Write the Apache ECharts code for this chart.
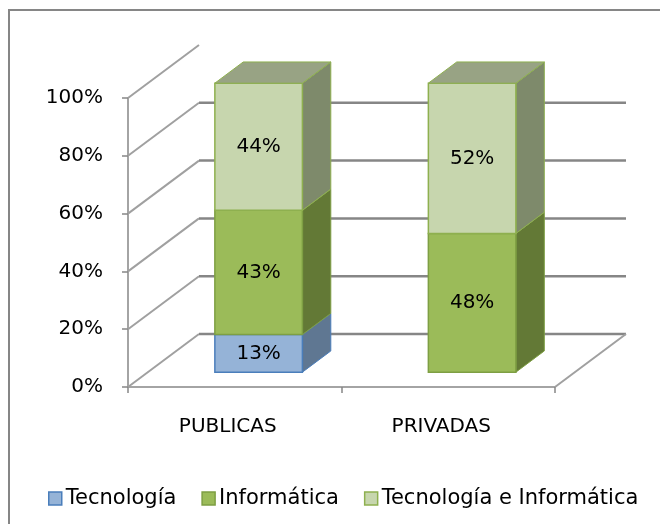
<!DOCTYPE html>
<html><head><meta charset="utf-8">
<script src="https://cdn.jsdelivr.net/npm/echarts/dist/echarts.min.js"></script>
<style>html,body{margin:0;padding:0;background:#fff}#c{width:660px;height:524px}</style>
</head><body><div id="c"></div>
<script>
const categories = ['PUBLICAS', 'PRIVADAS'];
const seriesNames = ['Tecnología', 'Informática', 'Tecnología e Informática'];
const tecnologia = [13, 0];
const informatica = [43, 48];
const tecEInf = [44, 52];
const yTicks = [0, 20, 40, 60, 80, 100];

const FONT = 'DejaVu Sans';
const WALL = [71, -53];         // full depth vector of the 3D box
const T1 = 0.28, T2 = 0.68;     // bar front/back depth fractions
const styles = [
  {front: '#95b3d7', side: '#5f7792', top: '#7f97b5', border: '#4a7ebb'},
  {front: '#9bbb59', side: '#637936', top: '#7e9a47', border: '#7e9f43'},
  {front: '#c7d6ae', side: '#7e8a6b', top: '#98a384', border: '#8eb04f'}
];
const allSeries = [tecnologia, informatica, tecEInf];

function stackData(k) {
  return categories.map((c, i) => {
    let s = 0;
    for (let j = 0; j < k; j++) s += allSeries[j][i];
    const v = allSeries[k][i];
    const top = (k === allSeries.length - 1) || allSeries.slice(k + 1).every(a => a[i] === 0);
    return [i, s, s + v, v, top ? 1 : 0];
  });
}

function barRender(k) {
  const st = styles[k];
  return function (params, api) {
    const v = api.value(3);
    if (!v) return;
    const cat = api.value(0);
    const p0 = api.coord([cat, api.value(1)]);
    const p1 = api.coord([cat, api.value(2)]);
    const hw = api.size([1, 0])[0] * 0.41 / 2;
    const fx = WALL[0] * T1, fy = WALL[1] * T1;
    const dx = WALL[0] * (T2 - T1), dy = WALL[1] * (T2 - T1);
    const xl = p0[0] - hw + fx + 4, xr = p0[0] + hw + fx + 4;
    const yb = p0[1] + fy, yt = p1[1] + fy;
    const children = [
      {type: 'polygon', shape: {points: [[xr, yb], [xr, yt], [xr + dx, yt + dy], [xr + dx, yb + dy]]},
        style: {fill: st.side, stroke: st.border, lineWidth: 1}},
      {type: 'rect', shape: {x: xl, y: yt, width: xr - xl, height: yb - yt},
        style: {fill: st.front, stroke: st.border, lineWidth: 1.5}},
      {type: 'text', style: {text: v + '%', x: (xl + xr) / 2, y: (yt + yb) / 2, align: 'center', verticalAlign: 'middle',
        fill: '#000', font: '20px "' + FONT + '"'}}
    ];
    if (api.value(4)) {
      children.push({type: 'polygon', shape: {points: [[xl, yt], [xr, yt], [xr + dx, yt + dy], [xl + dx, yt + dy]]},
        style: {fill: st.top, stroke: st.border, lineWidth: 1}});
    }
    return {type: 'group', children: children};
  };
}

function wallRender(params, api) {
  const cs = params.coordSys;
  const val = api.value(0);
  const p = api.coord([0, val]);
  const xL = cs.x, xR = cs.x + cs.width, y = p[1];
  const children = [
    {type: 'line', shape: {x1: xL, y1: y, x2: xL + WALL[0], y2: y + WALL[1]},
      style: {stroke: '#a0a0a0', lineWidth: 2}}
  ];
  if (val < 100) {
    children.push({type: 'line', shape: {x1: xL + WALL[0], y1: y + WALL[1], x2: xR + WALL[0], y2: y + WALL[1]},
      style: {stroke: '#868686', lineWidth: 2.5}});
  }
  if (val === 0) {
    children.push({type: 'line', shape: {x1: xR, y1: y, x2: xR + WALL[0], y2: y + WALL[1]},
      style: {stroke: '#a0a0a0', lineWidth: 2}});
  }
  return {type: 'group', children: children};
}

const chart = echarts.init(document.getElementById('c'));
const series = [{
  type: 'custom', name: '_walls', silent: true, z: 1,
  data: yTicks.map(v => [v]), encode: {y: 0},
  renderItem: wallRender
}];
seriesNames.forEach((n, k) => {
  series.push({
    type: 'custom', name: n, z: 2 + k,
    itemStyle: {color: styles[k].front, borderColor: styles[k].border, borderWidth: 1.5},
    data: stackData(k), encode: {x: 0, y: [1, 2]},
    renderItem: barRender(k)
  });
});

chart.setOption({
  animation: false,
  textStyle: {fontFamily: FONT},
  graphic: [{type: 'rect', shape: {x: 9, y: 10, width: 700, height: 600},
    style: {fill: 'none', stroke: '#868686', lineWidth: 2}, z: -1}],
  grid: {left: 128, right: 105, top: 98, bottom: 137},
  legend: {
    top: 483, left: 43, itemWidth: 13, itemHeight: 13, itemGap: 25,
    icon: 'rect',
    textStyle: {fontFamily: FONT, fontSize: 21, color: '#000', padding: [0, 0, 0, -1]},
    data: seriesNames.map((n, k) => ({name: n, itemStyle: {color: styles[k].front, borderColor: styles[k].border, borderWidth: 1.5}}))
  },
  xAxis: {
    type: 'category', data: categories,
    axisLine: {lineStyle: {color: '#868686', width: 1.5}},
    axisTick: {show: true, length: 6, lineStyle: {color: '#868686', width: 1.5}},
    axisLabel: {color: '#000', fontSize: 20, fontFamily: FONT, margin: 30, padding: [0, 14, 0, 0]}
  },
  yAxis: {
    type: 'value', min: 0, max: 100, interval: 20,
    axisLine: {show: true, lineStyle: {color: '#868686', width: 1.5}},
    axisTick: {show: true, length: 6, lineStyle: {color: '#868686', width: 1.5}},
    splitLine: {show: false},
    axisLabel: {color: '#000', fontSize: 20, fontFamily: FONT, formatter: '{value}%', margin: 25}
  },
  series: series
});
</script></body></html>
